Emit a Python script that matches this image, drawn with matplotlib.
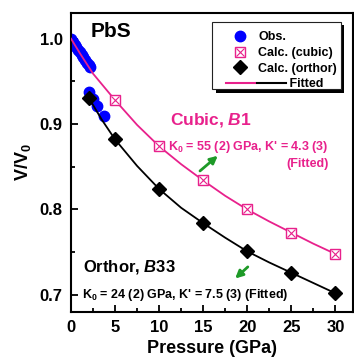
import numpy as np
import matplotlib
matplotlib.use('Agg')
import matplotlib.pyplot as plt
from matplotlib.lines import Line2D
from matplotlib.patches import Rectangle
from matplotlib.legend_handler import HandlerBase, HandlerTuple

plt.rcParams['font.family'] = ['Liberation Sans', 'DejaVu Sans']
plt.rcParams['font.weight'] = 'bold'
plt.rcParams['mathtext.fontset'] = 'custom'
plt.rcParams['mathtext.rm'] = 'Liberation Sans:bold'
plt.rcParams['mathtext.bf'] = 'Liberation Sans:bold'
plt.rcParams['mathtext.it'] = 'Liberation Sans:italic:bold'

PINK = '#E8218C'
GREEN = '#1E9A28'

# observed V/V0
obs_p = [0.0, 0.2, 0.4, 0.6, 0.8, 1.0, 1.2, 1.4, 1.6, 1.8, 2.0, 2.2, 2.0, 2.5, 2.9, 3.7]
obs_v = [0.999, 0.996, 0.993, 0.990, 0.987, 0.984, 0.981, 0.978, 0.975, 0.972, 0.969, 0.967,
         0.937, 0.929, 0.921, 0.909]

# calculated, cubic B1
cub_p = [5, 10, 15, 20, 25, 30]
cub_v = [0.928, 0.874, 0.834, 0.800, 0.773, 0.748]

# calculated, orthorhombic B33
ort_p = [2, 5, 10, 15, 20, 25, 30]
ort_v = [0.931, 0.882, 0.824, 0.784, 0.751, 0.726, 0.702]

# fitted curves
fit_cub_p = [0, 1, 2.5, 5, 7.5, 10, 12.5, 15, 17.5, 20, 22.5, 25, 27.5, 30]
fit_cub_v = [1.0, 0.983, 0.959, 0.928, 0.899, 0.874, 0.853, 0.834, 0.816, 0.800, 0.786, 0.773, 0.760, 0.748]
fit_ort_p = [2, 3.5, 5, 7.5, 10, 12.5, 15, 17.5, 20, 22.5, 25, 27.5, 30]
fit_ort_v = [0.931, 0.905, 0.882, 0.851, 0.824, 0.802, 0.784, 0.767, 0.751, 0.738, 0.726, 0.714, 0.702]


class FitHandler(HandlerBase):
    # pink and black line side by side, the black one running into the label area
    def create_artists(self, legend, orig_handle, xdescent, ydescent,
                       width, height, fontsize, trans):
        y = height / 2 - ydescent
        a = Line2D([-xdescent, -xdescent + width], [y, y], color=PINK, lw=1.5, transform=trans)
        b = Line2D([-xdescent + width + 2, -xdescent + 2 * width + 2], [y, y], color='black', lw=1.5, transform=trans)
        return [a, b]


fig = plt.figure(figsize=(3.54, 3.61), dpi=100)
ax = fig.add_axes([0.2006, 0.1357, 0.7964, 0.8283])

h_obs, = ax.plot(obs_p, obs_v, 'o', color='#0000FF', ms=7.5, mec='#0000FF', zorder=2)
ax.plot(fit_cub_p, fit_cub_v, '-', color=PINK, lw=1.3, zorder=3)
ax.plot(fit_ort_p, fit_ort_v, '-', color='black', lw=1.3, zorder=3)
h_sq, = ax.plot(cub_p, cub_v, 's', ms=7.8, mfc='white', mec=PINK, mew=1.0, zorder=4)
h_x, = ax.plot(cub_p, cub_v, 'x', ms=6, mec=PINK, mew=0.8, zorder=5)
h_d, = ax.plot(ort_p, ort_v, 'D', color='black', ms=7, zorder=4)

ax.set_xlim(0, 32)
ax.set_ylim(0.68, 1.03)
ax.set_xticks(np.arange(0, 31, 5))
ax.set_xticks(np.arange(0, 32, 2.5), minor=True)
ax.set_yticks([0.7, 0.8, 0.9, 1.0])
ax.set_yticklabels(['0.7', '0.8', '0.9', '1.0'])
ax.set_yticks(np.arange(0.70, 1.03, 0.05), minor=True)
ax.tick_params(which='both', direction='in', width=1.3, labelsize=12, top=False, right=False)
ax.tick_params(which='major', length=5, pad=6)
ax.tick_params(which='minor', length=3)
for s in ax.spines.values():
    s.set_linewidth(1.5)

ax.set_xlabel('Pressure (GPa)', fontsize=13, fontweight='bold', labelpad=3)
ax.set_ylabel('V/V$_0$', fontsize=13, fontweight='bold', labelpad=5)

ax.text(2.2, 1.002, 'PbS', fontsize=15, fontweight='bold')
ax.text(11.25, 0.900, r'Cubic, $\mathit{B}$1', fontsize=12.5, color=PINK)
ax.text(11.0, 0.870, r"K$_\mathbf{0}$ = 55 (2) GPa, K' = 4.3 (3)", fontsize=9, color=PINK)
ax.text(29.2, 0.850, '(Fitted)', fontsize=9, color=PINK, ha='right')
ax.text(1.36, 0.728, r'Orthor, $\mathit{B}$33', fontsize=12)
ax.text(1.25, 0.696, r"K$_\mathbf{0}$ = 24 (2) GPa, K' = 7.5 (3) (Fitted)", fontsize=9)

ax.annotate('', xy=(16.9, 0.865), xytext=(14.4, 0.843),
            arrowprops=dict(arrowstyle='-|>', color=GREEN, lw=2, mutation_scale=11))
ax.annotate('', xy=(18.4, 0.717), xytext=(20.3, 0.735),
            arrowprops=dict(arrowstyle='-|>', color=GREEN, lw=2, mutation_scale=11))

fit_key = object()
leg = ax.legend([h_obs, (h_sq, h_x), h_d, fit_key],
                ['Obs.', 'Calc. (cubic)', 'Calc. (orthor)', '         Fitted'],
                handler_map={tuple: HandlerTuple(ndivide=1), object: FitHandler()},
                loc='upper right', bbox_to_anchor=(0.964, 0.958), fontsize=9,
                frameon=False, handlelength=2.3, handletextpad=0.3, labelspacing=0.3,
                borderpad=0.45, borderaxespad=0, numpoints=1)

# Origin-style frame with a solid black drop shadow, placed around the legend
fig.canvas.draw()
bb = leg.get_window_extent()
inv = ax.transAxes.inverted()
(x0, y0), (x1, y1) = inv.transform([(bb.x0 - 8, bb.y0 + 7), (bb.x1 - 2, bb.y1 + 4)])
dx = 3.5 / ax.bbox.width
dy = 3.5 / ax.bbox.height
ax.add_patch(Rectangle((x0 + dx, y0 - dy), x1 - x0, y1 - y0, transform=ax.transAxes,
                       facecolor='black', edgecolor='none', zorder=4.8, clip_on=False))
ax.add_patch(Rectangle((x0, y0), x1 - x0, y1 - y0, transform=ax.transAxes,
                       facecolor='white', edgecolor='#222222', lw=0.8, zorder=4.9, clip_on=False))

fig.savefig('out.png', dpi=100)
